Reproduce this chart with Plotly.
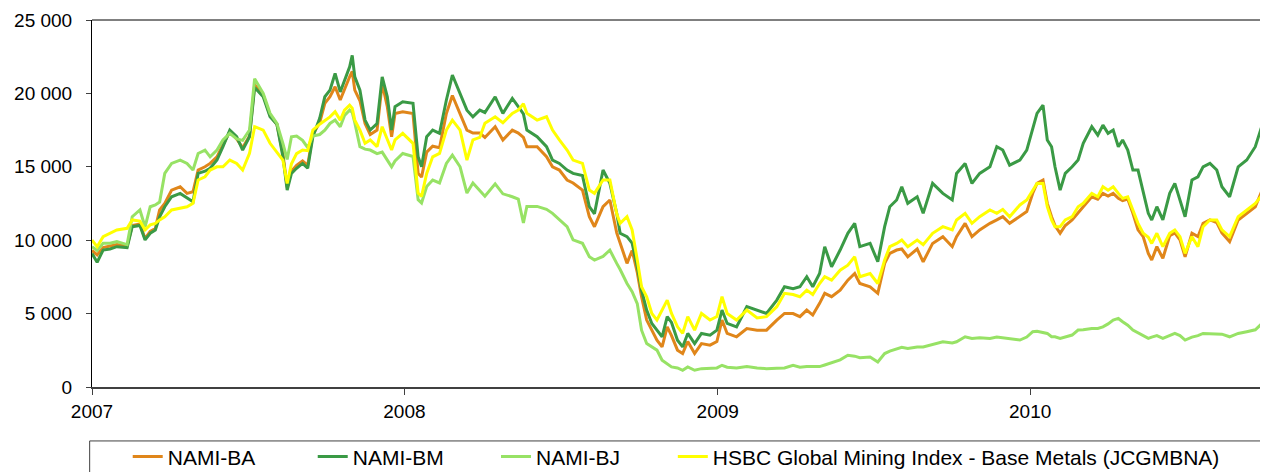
import plotly.graph_objects as go

dates = [
    "2007-01-01", "2007-01-07", "2007-01-14", "2007-01-22", "2007-01-30", "2007-02-11", "2007-02-17", "2007-02-26",
    "2007-03-04", "2007-03-10", "2007-03-16", "2007-03-21", "2007-03-27", "2007-04-04", "2007-04-14", "2007-04-22",
    "2007-04-29", "2007-05-05", "2007-05-13", "2007-05-19", "2007-05-27", "2007-06-03", "2007-06-11", "2007-06-19",
    "2007-06-26", "2007-07-04", "2007-07-10", "2007-07-20", "2007-07-28", "2007-08-05", "2007-08-12", "2007-08-17",
    "2007-08-22", "2007-08-28", "2007-09-04", "2007-09-10", "2007-09-16", "2007-09-24", "2007-09-30", "2007-10-06",
    "2007-10-12", "2007-10-18", "2007-10-23", "2007-10-29", "2007-11-01", "2007-11-04", "2007-11-10", "2007-11-16",
    "2007-11-22", "2007-11-30", "2007-12-06", "2007-12-12", "2007-12-17", "2007-12-21", "2007-12-30",
    "2008-01-11", "2008-01-17", "2008-01-21", "2008-01-27", "2008-02-03", "2008-02-11", "2008-02-19", "2008-02-26",
    "2008-03-06", "2008-03-14", "2008-03-21", "2008-03-29", "2008-04-04", "2008-04-16", "2008-04-25", "2008-05-06",
    "2008-05-13", "2008-05-19", "2008-05-23", "2008-06-04", "2008-06-15", "2008-06-22", "2008-06-30", "2008-07-09",
    "2008-07-16", "2008-07-27", "2008-08-04", "2008-08-10", "2008-08-20", "2008-08-28", "2008-09-05", "2008-09-09",
    "2008-09-17", "2008-09-23", "2008-09-29", "2008-10-04", "2008-10-10", "2008-10-16", "2008-10-22", "2008-10-28",
    "2008-11-03", "2008-11-08", "2008-11-15", "2008-11-21", "2008-11-27", "2008-12-05", "2008-12-13", "2008-12-23",
    "2008-12-31",
    "2009-01-06", "2009-01-12", "2009-01-23", "2009-02-04", "2009-02-16", "2009-02-27", "2009-03-11", "2009-03-20",
    "2009-03-30", "2009-04-07", "2009-04-15", "2009-04-22", "2009-04-30", "2009-05-06", "2009-05-14", "2009-05-24",
    "2009-06-02", "2009-06-10", "2009-06-16", "2009-06-28", "2009-07-07", "2009-07-15", "2009-07-21", "2009-07-29",
    "2009-08-04", "2009-08-11", "2009-08-22", "2009-08-29", "2009-09-09", "2009-09-21", "2009-10-02", "2009-10-07",
    "2009-10-17", "2009-10-25", "2009-11-03", "2009-11-15", "2009-11-23", "2009-11-30", "2009-12-08", "2009-12-20",
    "2009-12-28",
    "2010-01-04", "2010-01-09", "2010-01-16", "2010-01-21", "2010-01-26", "2010-01-30", "2010-02-05", "2010-02-11",
    "2010-02-19", "2010-02-26", "2010-03-04", "2010-03-14", "2010-03-21", "2010-03-27", "2010-04-02", "2010-04-08",
    "2010-04-14", "2010-04-19", "2010-04-25", "2010-05-01", "2010-05-07", "2010-05-13", "2010-05-19", "2010-05-23",
    "2010-05-29", "2010-06-05", "2010-06-13", "2010-06-19", "2010-06-25", "2010-07-01", "2010-07-09", "2010-07-16",
    "2010-07-22", "2010-07-30", "2010-08-07", "2010-08-13", "2010-08-22", "2010-09-01", "2010-09-11", "2010-09-21",
    "2010-09-29",
]

nami_ba = [
    9300, 9000, 9500, 9600, 9700, 9600, 11000, 11100,
    10100, 10600, 10800, 12060, 12510, 13410, 13640, 13190,
    13300, 14780, 15000, 15230, 15680, 16500, 17400, 16900,
    16300, 17100, 20600, 19900, 18500, 17900, 15900, 13600,
    14700, 15100, 15400, 15100, 17200, 18000, 19320, 19770,
    20450, 19550, 20300, 21130, 21500, 20220, 19500, 17950,
    17200, 17500, 20680, 19090, 17050, 18630, 18750,
    18630, 14550, 14300, 16000, 16400, 16300, 18630, 19860,
    18630, 17500, 17300, 17300, 17000, 17730, 16830, 17500,
    17300, 17000, 16370, 16370, 15690, 15000, 14780, 14100,
    13900, 13410, 11600, 10920, 12280, 12740, 10500, 9780,
    8420, 9300, 7800, 6150, 4560, 3870, 3190, 2730,
    4100, 3500, 2510, 2280, 3100, 2280, 2960, 2850,
    3100,
    4560, 3650, 3420, 3980, 3870, 3870, 4560, 5010,
    5000, 4790, 5240, 4900, 5700, 6380, 6150, 6600,
    7280, 7730, 7050, 6830, 6380, 8420, 9100, 9330,
    9400, 8870, 9400, 8530, 9780, 10240, 9560, 10240,
    11150, 10240, 10700, 11150, 11380, 11600, 11150, 11600,
    11950,
    13200, 13870, 14100, 12510, 11600, 11000, 10470, 11000,
    11380, 11830, 12280, 12960, 12800, 13190, 13000, 13190,
    12850, 12700, 12800, 11830, 10700, 10240, 9100, 8650,
    9560, 8760, 10300, 10500, 10020, 8870, 10470, 10240,
    11150, 11380, 11200, 10500, 9900, 11380, 11830, 12280,
    13410,
]

nami_bm = [
    9100, 8500, 9330, 9400, 9560, 9500, 10920, 11000,
    10020, 10470, 10700, 11600, 12280, 12960, 13190, 12900,
    12620, 14550, 14700, 14900, 15460, 16370, 17500, 17050,
    16140, 17050, 20400, 19770, 18410, 17900, 15680, 13410,
    14550, 14900, 15230, 14900, 17050, 18300, 19770, 20220,
    21360, 20100, 20900, 21810, 22590, 21130, 20220, 18180,
    17500, 17950, 21130, 19770, 17500, 19090, 19430,
    19320, 15680, 15000, 17050, 17500, 17280, 19550, 21250,
    20000, 18860, 18400, 18860, 18700, 19770, 18640, 19660,
    19100, 18600, 17500, 17050, 16370, 15460, 15230, 14780,
    14550, 14400, 12280, 11800, 14780, 13870, 11830, 10470,
    10240, 9800, 8200, 6600, 5240, 4330, 3870, 3420,
    4790, 4400, 3190, 2730, 3650, 2960, 3650, 3530,
    3870,
    5240, 4330, 4100, 5470, 5240, 5010, 5920, 6830,
    6700, 6830, 7510, 6830, 7730, 9560, 8190, 9330,
    10470, 11150, 9560, 9780, 8530, 10920, 12280, 12740,
    13640, 12510, 12960, 11830, 13870, 13190, 12740, 14550,
    15230, 13870, 14550, 15000, 16370, 16140, 15110, 15460,
    16140,
    17500, 18640, 19200, 16830, 16370, 15000, 13410, 14550,
    15000, 15460, 16600, 17730, 17160, 17840, 17280, 17500,
    16370, 16830, 16140, 14780, 14780, 13190, 11830, 11380,
    12280, 11380, 13190, 13870, 12740, 11600, 14100, 14320,
    15000, 15230, 14780, 13640, 12960, 15000, 15460, 16370,
    17840,
]

nami_bj = [
    9560, 9300, 9790, 9800, 9900, 9700, 11600, 12060,
    10900, 12280, 12400, 12600, 14550, 15230, 15460, 15230,
    14780, 15910, 16140, 15680, 16140, 16830, 17280, 16900,
    16800, 17500, 21000, 20000, 18640, 17960, 16600, 15500,
    17050, 17100, 16800, 16300, 17100, 17200, 17500, 17950,
    18180, 17730, 18500, 18860, 18700, 18000, 16370, 16200,
    16140, 15900, 16000, 15460, 15000, 15400, 15910,
    15700, 12760, 12530, 13660, 14100, 13900, 15230, 15800,
    15000, 13210, 13890, 13410, 13000, 13840, 13160, 12960,
    12800, 11170, 12300, 12300, 12100, 11830, 11380, 10920,
    10020, 9790, 8880, 8650, 8900, 9320, 8420, 8000,
    7050, 6500, 5680, 3870, 2960, 2730, 2510, 1830,
    1600, 1370, 1300, 1140, 1370, 1140, 1250, 1260,
    1300,
    1480, 1350, 1300, 1400, 1300, 1250, 1280, 1300,
    1480, 1350, 1400, 1390, 1390, 1500, 1650, 1850,
    2160, 2100, 2000, 2050, 1710, 2280, 2450, 2620,
    2700, 2620, 2730, 2730, 2900, 3080, 3000, 3080,
    3420, 3300, 3350, 3310, 3400, 3350, 3300, 3200,
    3400,
    3770, 3800, 3700, 3650, 3420, 3420, 3310, 3400,
    3540, 3880, 3900, 3990, 3990, 4100, 4300, 4560,
    4670, 4450, 4210, 3880, 3700, 3540, 3310, 3400,
    3500, 3310, 3500, 3650, 3500, 3200, 3400, 3500,
    3650, 3650, 3600, 3600, 3420, 3650, 3770, 3900,
    4330,
]

hsbc = [
    10010, 9560, 10240, 10470, 10700, 10810, 11380, 11300,
    10700, 11040, 11150, 11380, 11600, 12060, 12170, 12280,
    12510, 14100, 14320, 14780, 15000, 15000, 15460, 15230,
    14780, 15910, 17730, 17500, 16600, 16000, 15460, 13870,
    15200, 15900, 16140, 16100, 17500, 17900, 18180, 18400,
    18750, 18180, 18860, 19200, 19000, 18180, 17500, 16600,
    16830, 16370, 17730, 16830, 16140, 16830, 17280,
    16600, 13210, 12980, 14550, 15680, 15910, 17500, 18180,
    17500, 15460, 16830, 17000, 17960, 18410, 18000, 18640,
    18860, 19300, 18640, 18180, 18410, 17500, 16830, 16140,
    15460, 15230, 13410, 13190, 14100, 14100, 11800, 11150,
    11600, 10700, 8650, 6830, 6150, 5010, 4560, 5240,
    5920, 5010, 4100, 3650, 4790, 3870, 5010, 4560,
    4800,
    6150, 5010, 4560, 5240, 4700, 4790, 5470, 6380,
    6300, 6150, 6600, 6300, 7050, 7510, 7280, 7960,
    8300, 8870, 7510, 7730, 7050, 8650, 9560, 9780,
    10010, 9560, 10010, 9700, 10470, 10920, 10700, 11380,
    11830, 11150, 11600, 12060, 11830, 12100, 11600, 12400,
    12740,
    13410, 13870, 13870, 12280, 11380, 10920, 10920, 11380,
    11600, 12280, 12510, 13190, 12960, 13640, 13410, 13640,
    13190, 12850, 12960, 12060, 11150, 10470, 10200, 9780,
    10470, 9560, 10470, 10700, 10240, 9100, 10240, 9560,
    10920, 11380, 11380, 10700, 10240, 11600, 12060, 12510,
    13070,
]

series_names = ["NAMI-BA", "NAMI-BM", "NAMI-BJ", "HSBC Global Mining Index - Base Metals (JCGMBNA)"]
series_colors = ["#E0861A", "#3A9A45", "#97E265", "#FFFF00"]
series_values = [nami_ba, nami_bm, nami_bj, hsbc]

y_tickvals = [0, 5000, 10000, 15000, 20000, 25000]
y_ticktext = ["0", "5 000", "10 000", "15 000", "20 000", "25 000"]
x_tickvals = ["2007-01-01", "2008-01-01", "2009-01-01", "2010-01-01"]
x_ticktext = ["2007", "2008", "2009", "2010"]

FONT = "Liberation Sans, Arial, sans-serif"
legend_ids = ["legend", "legend2", "legend3", "legend4"]
legend_x = [0.0305, 0.1885, 0.345, 0.496]

fig = go.Figure()
for name, color, vals, lid in zip(series_names, series_colors, series_values, legend_ids):
    fig.add_trace(go.Scatter(
        x=dates, y=vals, mode="lines", name=name, legend=lid,
        line=dict(color=color, width=3),
    ))

legend_layout = {}
for lid, lx in zip(legend_ids, legend_x):
    legend_layout[lid] = dict(
        orientation="h", x=lx, xanchor="left", y=-0.19, yanchor="middle",
        font=dict(family=FONT, size=21, color="black"),
        bgcolor="rgba(0,0,0,0)", borderwidth=0,
    )

# page body adds an 8px offset; figure sized/margined so the plot lands at 92..1263 x 20..387
fig.update_layout(
    width=1260, height=464,
    margin=dict(l=84, r=5, t=12, b=85, autoexpand=False),
    paper_bgcolor="white", plot_bgcolor="white",
    font=dict(family=FONT, color="black", size=19),
    showlegend=True,
    xaxis=dict(
        range=["2007-01-01", "2010-09-30"],
        tickmode="array", tickvals=x_tickvals, ticktext=x_ticktext,
        showgrid=False, zeroline=False,
        showline=True, linecolor="#404040", linewidth=2,
        ticks="outside", ticklen=6, tickcolor="#404040", tickwidth=1,
        tickfont=dict(family=FONT, size=19, color="black"),
    ),
    yaxis=dict(
        range=[0, 25000],
        tickmode="array", tickvals=y_tickvals, ticktext=y_ticktext,
        showgrid=False, zeroline=False,
        showline=True, linecolor="black", linewidth=1,
        ticks="outside", ticklen=5, tickcolor="#404040", tickwidth=1,
        tickfont=dict(family=FONT, size=19, color="black"),
        ticklabelstandoff=10,
    ),
    shapes=[
        dict(type="line", xref="paper", yref="paper", x0=0, x1=1, y0=1, y1=1,
             line=dict(color="black", width=1)),
        dict(type="line", xref="paper", yref="paper", x0=1, x1=1, y0=0, y1=1,
             line=dict(color="#808080", width=2)),
        dict(type="rect", xref="paper", yref="paper", x0=-0.002, x1=1.0, y0=-0.26, y1=-0.147,
             line=dict(color="#404040", width=1), fillcolor="rgba(0,0,0,0)"),
    ],
    **legend_layout,
)

fig.write_html("out.html")
